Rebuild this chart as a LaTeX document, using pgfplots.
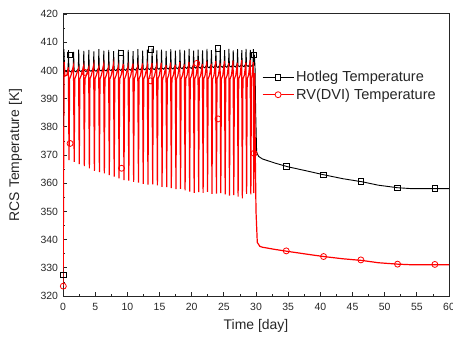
\documentclass[border=0pt]{standalone}
\usepackage{fontspec}
\setmainfont{Liberation Sans}
\usepackage{pgfplots}
\pgfplotsset{compat=1.18}
\usetikzlibrary{calc}
\begin{document}
\begin{tikzpicture}
\begin{axis}[
  scale only axis,
  width=386bp, height=282bp,
  xmin=0, xmax=60, ymin=320, ymax=420,
  xtick={0,5,...,60}, ytick={320,330,...,420},
  minor x tick num=1, minor y tick num=1,
  tick align=inside, tick pos=left,
  major tick length=4bp, minor tick length=2bp,
  axis line style={line width=1bp, black!85},
  every tick/.style={black!85, line width=0.8bp},
  /pgf/number format/assume math mode=true,
  tick label style={font=\fontsize{10.5}{12}\selectfont, text=black!85},
  xticklabel style={yshift=-3.5bp},
  yticklabel style={xshift=-1.5bp},
  xlabel={Time [day]}, ylabel={RCS Temperature [K]},
  label style={font=\fontsize{14}{16}\selectfont, text=black!85},
  xlabel style={at={(axis description cs:0.5,-0.1064)}, anchor=center},
  ylabel style={at={(axis description cs:-0.123,0.5)}, anchor=center},
  legend style={at={(rel axis cs:0.515,0.805)}, anchor=north west, draw=none, fill=none,
    font=\fontsize{14.6}{16}\selectfont, text=black!85, row sep=1.5bp, inner sep=0pt},
  legend cell align=left,
]
\coordinate (sw) at (rel axis cs:0,0);
\coordinate (ne) at (rel axis cs:1,1);
% Hotleg temperature
\addplot[black, line width=0.9bp, mark=none,
  legend image code/.code={\draw[black, line width=0.9bp] (0bp,0bp) -- (31bp,0bp);
    \draw[black, line width=0.8bp, fill=white] (12.8bp,-2.7bp) rectangle (18.2bp,2.7bp);}]
coordinates {
(0,327.5) (0.08,398) (0.15,407.5) (0.25,400) (0.5,399.5)
(0.79,400.4) (0.85,407.2) (0.93,399.9) (1.20,399.5)
(1.59,400.4) (1.65,406.6) (1.73,399.9) (2.00,399.5)
(2.38,400.5) (2.44,407.4) (2.52,400.0) (2.79,399.6)
(3.17,400.5) (3.23,406.9) (3.31,400.0) (3.58,399.6)
(3.95,400.6) (4.01,407.3) (4.09,400.1) (4.36,399.7)
(4.73,400.6) (4.79,406.7) (4.87,400.1) (5.14,399.7)
(5.51,400.7) (5.57,407.5) (5.65,400.2) (5.92,399.8)
(6.28,400.7) (6.34,407.0) (6.42,400.2) (6.69,399.8)
(7.05,400.8) (7.11,407.3) (7.19,400.3) (7.46,399.9)
(7.81,400.8) (7.87,406.8) (7.95,400.3) (8.22,399.9)
(8.57,400.9) (8.63,407.4) (8.71,400.4) (8.98,400.0)
(9.33,400.9) (9.39,406.9) (9.47,400.4) (9.74,400.0)
(10.08,401.0) (10.14,407.3) (10.22,400.5) (10.49,400.1)
(10.83,401.0) (10.89,406.8) (10.97,400.5) (11.24,400.1)
(11.58,401.1) (11.64,407.5) (11.72,400.6) (11.99,400.2)
(12.32,401.1) (12.38,407.0) (12.46,400.6) (12.73,400.2)
(13.06,401.2) (13.12,407.4) (13.20,400.7) (13.47,400.3)
(13.79,401.2) (13.85,407.7) (13.93,400.7) (14.20,400.3)
(14.52,401.3) (14.58,407.1) (14.66,400.8) (14.93,400.4)
(15.25,401.3) (15.31,407.4) (15.39,400.8) (15.66,400.4)
(15.97,401.4) (16.03,406.9) (16.11,400.9) (16.38,400.5)
(16.69,401.4) (16.75,407.5) (16.83,400.9) (17.10,400.5)
(17.41,401.5) (17.47,407.0) (17.55,401.0) (17.82,400.6)
(18.12,401.5) (18.18,407.4) (18.26,401.0) (18.53,400.6)
(18.83,401.6) (18.89,407.1) (18.97,401.1) (19.24,400.7)
(19.54,401.6) (19.60,407.6) (19.68,401.1) (19.95,400.7)
(20.24,401.7) (20.30,407.0) (20.38,401.2) (20.65,400.8)
(20.94,401.7) (21.00,407.4) (21.08,401.2) (21.35,400.8)
(21.63,401.8) (21.69,407.1) (21.77,401.3) (22.04,400.9)
(22.32,401.8) (22.38,407.6) (22.46,401.3) (22.73,400.9)
(23.01,401.9) (23.07,407.2) (23.15,401.4) (23.42,401.0)
(23.70,401.9) (23.76,407.5) (23.84,401.4) (24.11,401.0)
(24.38,402.0) (24.44,407.9) (24.52,401.5) (24.79,401.1)
(25.06,402.0) (25.12,407.2) (25.20,401.5) (25.47,401.1)
(25.73,402.1) (25.79,407.6) (25.87,401.6) (26.14,401.2)
(26.40,402.1) (26.46,407.1) (26.54,401.6) (26.81,401.2)
(27.07,402.2) (27.13,407.5) (27.21,401.7) (27.48,401.3)
(27.73,402.2) (27.79,407.2) (27.87,401.7) (28.14,401.3)
(28.39,402.3) (28.45,407.6) (28.53,401.8) (28.80,401.4)
(29.05,402.3) (29.11,407.3) (29.19,401.8) (29.40,401.4)
(29.54,402.3) (29.60,407.5) (29.68,401.8)
(29.75,405.5) (29.85,401) (29.95,385) (30.1,371) (30.4,369.5) (31,368.6)
(33,367.1) (35,365.8) (38,364.3) (40.5,363) (43.5,361.6) (46.5,360.5)
(49,359.3) (52,358.4) (54,358.1) (60,358.1)
};
\addlegendentry{Hotleg Temperature}
% RV(DVI) temperature
\addplot[red, line width=1.2bp, mark=none,
  legend image code/.code={\draw[red, line width=1.2bp] (0bp,0bp) -- (31bp,0bp);
    \draw[red, line width=0.8bp, fill=white] (15.5bp,0bp) circle (3bp);}]
coordinates {
(0,323.5) (0.04,335) (0.1,365) (0.18,403) (0.3,398) (0.6,398.3)
(0.83,401.1) (0.94,368.2) (1.03,397.0) (1.25,398.3)
(1.63,401.7) (1.74,367.6) (1.83,397.0) (2.05,398.3)
(2.42,400.8) (2.53,366.8) (2.62,397.0) (2.84,398.3)
(3.21,401.6) (3.32,366.1) (3.41,397.0) (3.63,398.3)
(3.99,401.0) (4.10,365.3) (4.19,397.0) (4.41,398.3)
(4.77,401.9) (4.88,364.4) (4.97,397.0) (5.19,398.3)
(5.55,401.2) (5.66,363.9) (5.75,397.0) (5.97,398.3)
(6.32,402.1) (6.43,363.5) (6.52,397.0) (6.74,398.3)
(7.09,401.3) (7.20,362.9) (7.29,397.0) (7.51,398.3)
(7.85,402.2) (7.96,362.3) (8.05,397.0) (8.27,398.3)
(8.61,401.4) (8.72,361.7) (8.81,397.0) (9.03,398.3)
(9.37,402.3) (9.48,361.1) (9.57,397.0) (9.79,398.3)
(10.12,401.5) (10.23,360.9) (10.32,397.0) (10.54,398.3)
(10.87,402.4) (10.98,360.5) (11.07,397.0) (11.29,398.3)
(11.62,401.6) (11.73,360.2) (11.82,397.0) (12.04,398.3)
(12.36,402.5) (12.47,359.8) (12.56,397.0) (12.78,398.3)
(13.10,401.7) (13.21,359.5) (13.30,397.0) (13.52,398.3)
(13.83,402.6) (13.94,359.6) (14.03,397.0) (14.25,398.3)
(14.56,401.8) (14.67,359.2) (14.76,397.0) (14.98,398.3)
(15.29,402.7) (15.40,358.7) (15.49,397.0) (15.71,398.3)
(16.01,401.9) (16.12,358.6) (16.21,397.0) (16.43,398.3)
(16.73,402.8) (16.84,358.3) (16.93,397.0) (17.15,398.3)
(17.45,402.0) (17.56,357.9) (17.65,397.0) (17.87,398.3)
(18.16,402.9) (18.27,358.0) (18.36,397.0) (18.58,398.3)
(18.87,402.1) (18.98,357.5) (19.07,397.0) (19.29,398.3)
(19.58,403.0) (19.69,357.0) (19.78,397.0) (20.00,398.3)
(20.28,402.2) (20.39,356.6) (20.48,397.0) (20.70,398.3)
(20.98,403.1) (21.09,356.8) (21.18,397.0) (21.40,398.3)
(21.67,402.3) (21.78,356.6) (21.87,397.0) (22.09,398.3)
(22.36,403.2) (22.47,356.9) (22.56,397.0) (22.78,398.3)
(23.05,402.4) (23.16,356.2) (23.25,397.0) (23.47,398.3)
(23.74,403.3) (23.85,356.3) (23.94,397.0) (24.16,398.3)
(24.42,402.5) (24.53,356.5) (24.62,397.0) (24.84,398.3)
(25.10,403.4) (25.21,356.0) (25.30,397.0) (25.52,398.3)
(25.77,402.6) (25.88,355.6) (25.97,397.0) (26.19,398.3)
(26.44,403.5) (26.55,355.8) (26.64,397.0) (26.86,398.3)
(27.11,402.7) (27.22,355.2) (27.31,397.0) (27.53,398.3)
(27.77,403.6) (27.88,354.6) (27.97,397.0) (28.19,398.3)
(28.43,402.8) (28.54,356.2) (28.63,397.0) (28.85,398.3)
(29.09,403.7) (29.20,356.0) (29.29,397.0) (29.40,398.3)
(29.58,402.9) (29.66,356.5) (29.73,397.0) (29.80,399.0)
(29.88,372) (30.0,350) (30.2,339) (30.6,337.6) (31,337.3) (33,336.5)
(35,335.8) (38,334.8) (40.5,334) (43.5,333.2) (46.5,332.6) (49,331.8)
(52,331.3) (54,331.1) (60,331.1)
};
\addlegendentry{RV(DVI) Temperature}
% markers
\addplot[only marks, mark=square, mark size=2.7bp, black, mark options={line width=0.8bp}, forget plot]
coordinates {(0.05,327.5) (1.1,405.4) (9.0,406.3) (13.7,407.5) (24.1,407.8) (29.7,405.6)
(34.7,365.9) (40.5,363) (46.3,360.6) (52.0,358.4) (57.8,358.1)};
\addplot[only marks, mark=o, mark size=3bp, red, mark options={line width=0.8bp}, forget plot]
coordinates {(0.05,323.5) (1.1,374.1) (9.1,365.3) (3.4,399.3) (13.6,396.3) (20.8,402.5) (24.1,382.8) (29.7,370.6)
(34.7,336) (40.5,334) (46.3,332.8) (52.0,331.3) (57.8,331.2)};
\end{axis}
\pgfresetboundingbox
\path ($(sw)+(-63bp,-42bp)$) rectangle ($(ne)+(4bp,14bp)$);
\end{tikzpicture}
\end{document}
